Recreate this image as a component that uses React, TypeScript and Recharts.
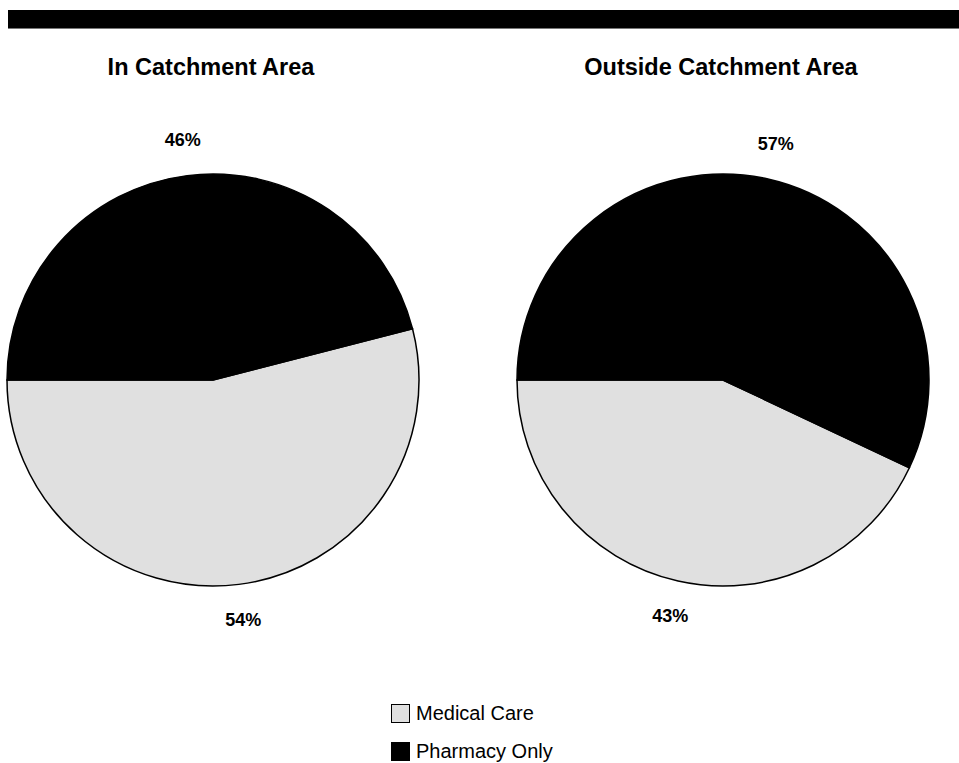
import { Cell, Legend, Pie, PieChart } from "recharts";

const categories = ["Medical Care", "Pharmacy Only"];
const inCatchment = [54, 46];
const outsideCatchment = [43, 57];
const titles = ["In Catchment Area", "Outside Catchment Area"];
const colors = ["#e0e0e0", "#000000"];

const font = "'Liberation Sans', Arial, sans-serif";
const RAD = Math.PI / 180;

const toRows = (values: number[]) =>
  categories.map((name, i) => ({ name, value: values[i] }));

const renderPct = (props: any) => {
  const { cx, cy, midAngle, outerRadius, value } = props;
  const r = outerRadius + 36;
  const x = cx + r * Math.cos(-midAngle * RAD);
  const y = cy + r * Math.sin(-midAngle * RAD);
  return (
    <text
      x={x}
      y={y}
      textAnchor="middle"
      dominantBaseline="central"
      fontFamily={font}
      fontWeight="bold"
      fontSize={18}
      fill="#000"
    >
      {value}%
    </text>
  );
};

function LegendBox() {
  return (
    <div style={{ fontFamily: font, fontSize: 20, color: "#000" }}>
      {categories.map((c, i) => (
        <div key={c} style={{ display: "flex", alignItems: "center", height: 38 }}>
          <span
            style={{
              display: "inline-block",
              width: 17,
              height: 17,
              background: colors[i],
              border: "1px solid #000",
              marginRight: 6,
            }}
          />
          {c}
        </div>
      ))}
    </div>
  );
}

export default function App() {
  return (
    <div style={{ position: "absolute", left: 0, top: 0, width: 959, height: 763, background: "#fff" }}>
      <div
        style={{
          position: "absolute",
          left: 8,
          top: 10,
          width: 951,
          height: 18,
          background: "#000",
          borderBottom: "1px solid #777",
        }}
      />
      {titles.map((t, i) => (
        <div
          key={t}
          style={{
            position: "absolute",
            left: i === 0 ? 11 : 521,
            width: 400,
            top: 54,
            textAlign: "center",
            fontFamily: font,
            fontWeight: "bold",
            fontSize: 23.5,
          }}
        >
          {t}
        </div>
      ))}
      <PieChart width={959} height={763} style={{ position: "absolute", left: 0, top: 0 }}>
        <Pie
          data={toRows(inCatchment)}
          dataKey="value"
          nameKey="name"
          cx={208}
          cy={375}
          outerRadius={206}
          startAngle={180}
          endAngle={540}
          stroke="#000"
          strokeWidth={1.5}
          label={renderPct}
          labelLine={false}
          isAnimationActive={false}
        >
          {colors.map((c) => (
            <Cell key={c} fill={c} />
          ))}
        </Pie>
        <Pie
          data={toRows(outsideCatchment)}
          dataKey="value"
          nameKey="name"
          cx={718}
          cy={375}
          outerRadius={206}
          startAngle={180}
          endAngle={540}
          stroke="#000"
          strokeWidth={1.5}
          label={renderPct}
          labelLine={false}
          isAnimationActive={false}
        >
          {colors.map((c) => (
            <Cell key={c} fill={c} />
          ))}
        </Pie>
        <Legend
          content={() => <LegendBox />}
          wrapperStyle={{ position: "absolute", left: 391, top: 694, width: 200 }}
        />
      </PieChart>
    </div>
  );
}
